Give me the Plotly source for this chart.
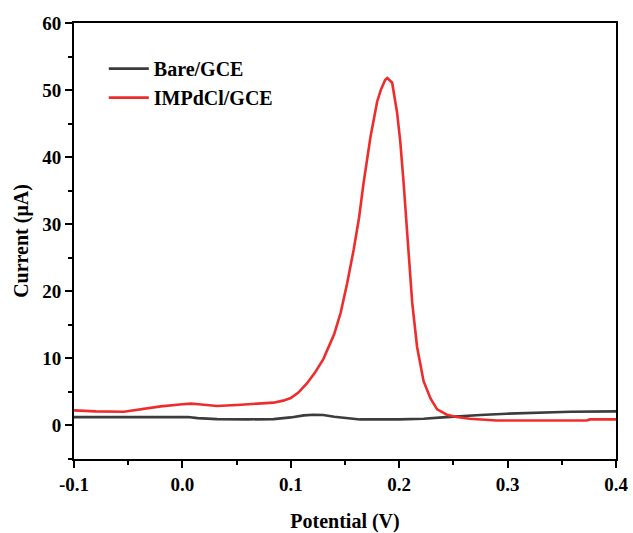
import plotly.graph_objects as go

# Potential (V) and current (uA)
bare_x = [-0.1, -0.05, 0.005, 0.014, 0.032, 0.06, 0.084, 0.1, 0.112, 0.121, 0.13, 0.14,
          0.152, 0.164, 0.2, 0.2226, 0.24, 0.253, 0.275, 0.299, 0.327, 0.358, 0.4]
bare_y = [1.25, 1.25, 1.25, 1.1, 0.95, 0.9, 0.95, 1.2, 1.5, 1.6, 1.55, 1.3,
          1.05, 0.9, 0.9, 1.0, 1.2, 1.35, 1.55, 1.75, 1.9, 2.05, 2.1]

imp_x = [-0.1, -0.08, -0.054, -0.035, -0.02, 0.0, 0.008, 0.015, 0.032, 0.05, 0.07, 0.084,
         0.093, 0.1, 0.107, 0.115, 0.122, 0.13, 0.14, 0.146, 0.152, 0.158, 0.163, 0.167,
         0.1735, 0.1797, 0.183, 0.187, 0.189, 0.1935, 0.198, 0.201, 0.204, 0.207, 0.209,
         0.212, 0.2165, 0.2225, 0.229, 0.235, 0.244, 0.253, 0.265, 0.275, 0.29, 0.33,
         0.373, 0.376, 0.4]
imp_y = [2.25, 2.1, 2.05, 2.5, 2.85, 3.15, 3.25, 3.15, 2.9, 3.05, 3.2, 3.4,
         3.7, 4.1, 4.9, 6.3, 7.8, 9.9, 13.6, 16.8, 21.2, 26.2, 31.0, 36.0,
         43.0, 48.3, 50.0, 51.5, 51.8, 51.1, 46.7, 42.3, 36.3, 29.0, 25.0,
         18.3, 11.7, 6.6, 4.0, 2.4, 1.6, 1.25, 1.0, 0.9, 0.75, 0.75,
         0.75, 0.9, 0.9]

x_ticks = [-0.1, 0.0, 0.1, 0.2, 0.3, 0.4]
x_tick_text = ["-0.1", "0.0", "0.1", "0.2", "0.3", "0.4"]
y_ticks = [0, 10, 20, 30, 40, 50, 60]
y_tick_text = ["0", "10", "20", "30", "40", "50", "60"]

FONT = "Liberation Serif"

fig = go.Figure()
fig.add_trace(go.Scatter(x=bare_x, y=bare_y, mode="lines", name="<b>Bare/GCE</b>",
                         line=dict(color="#3c3c3c", width=2.6)))
fig.add_trace(go.Scatter(x=imp_x, y=imp_y, mode="lines", name="<b>IMPdCl/GCE</b>",
                         line=dict(color="#ee2c2c", width=2.6)))

axis_common = dict(showline=True, linecolor="black", linewidth=2, mirror=True,
                   ticks="outside", tickwidth=2, ticklen=7, tickcolor="black",
                   showgrid=False, zeroline=False, automargin=False,
                   tickfont=dict(family=FONT, size=19, color="black"))

fig.update_xaxes(range=[-0.1, 0.4], tickvals=x_ticks,
                 ticktext=["<b>%s</b>" % t for t in x_tick_text],
                 minor=dict(ticks="outside", ticklen=4, tickwidth=2, tickcolor="black", dtick=0.05, tick0=-0.1),
                 title=dict(text="<b>Potential (V)</b>", font=dict(family=FONT, size=20, color="black"), standoff=20),
                 **axis_common)
fig.update_yaxes(range=[-5, 60], tickvals=y_ticks,
                 ticktext=["<b>%s</b>" % t for t in y_tick_text],
                 minor=dict(ticks="outside", ticklen=4, tickwidth=2, tickcolor="black", dtick=5, tick0=-5),
                 title=dict(text="<b>Current (μA)</b>", font=dict(family=FONT, size=20, color="black"), standoff=8),
                 **axis_common)

fig.update_layout(
    width=633, height=533,
    margin=dict(l=74, r=17, t=23, b=74),
    paper_bgcolor="white", plot_bgcolor="white",
    font=dict(family=FONT, size=19, color="black"),
    legend=dict(x=0.055, y=0.94, xanchor="left", yanchor="top", bgcolor="rgba(0,0,0,0)",
                font=dict(family=FONT, size=20), tracegroupgap=0, itemwidth=40),
)

fig.write_html("out.html")
